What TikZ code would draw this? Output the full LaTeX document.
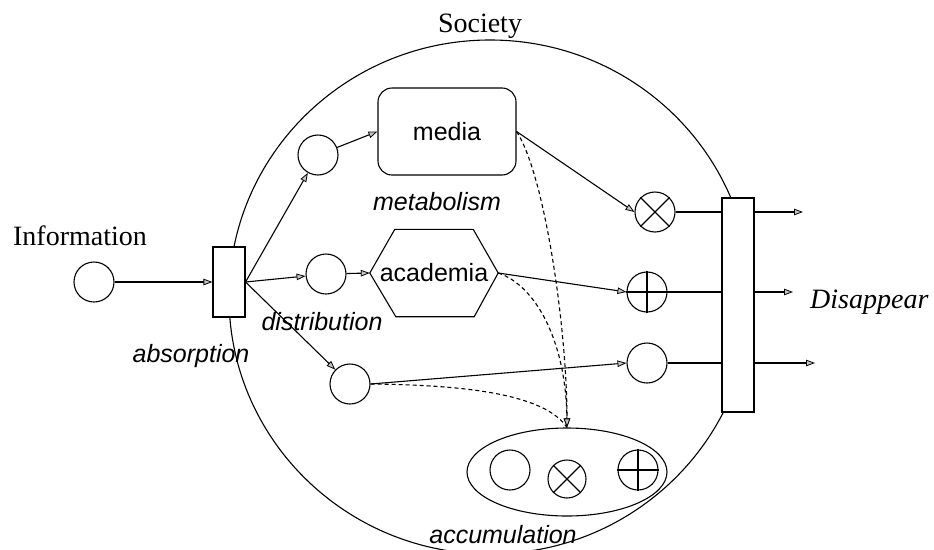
\documentclass[tikz,border=0pt]{standalone}
\usepackage{fontspec}
\setmainfont{Liberation Serif}
\setsansfont{Liberation Sans}
\usetikzlibrary{arrows.meta,shapes.geometric}
\begin{document}
\begin{tikzpicture}[x=1pt,y=-1pt,
  ln/.style={line width=1.1pt},
  arr/.style={ln,-{Triangle[length=9pt,width=6.5pt,fill=gray!45,line width=0.8pt]}},
  place/.style={circle,draw,ln,fill=white,minimum size=40pt,inner sep=0pt},
  trans/.style={rectangle,draw,ln,fill=white,inner sep=0pt},
  serif/.style={inner sep=0pt,font=\fontsize{28}{30}\selectfont},
  iserif/.style={inner sep=0pt,font=\itshape\fontsize{28}{30}\selectfont},
  sans/.style={font=\sffamily\fontsize{25}{28}\selectfont},
  isans/.style={inner sep=0pt,font=\sffamily\itshape\fontsize{25}{28}\selectfont},
  dsh/.style={dash pattern=on 4pt off 3pt}
]
\useasboundingbox (0,0) rectangle (934,549);
\fill[white] (0,0) rectangle (934,549);
% society boundary
\node[ellipse,draw,ln,inner sep=0pt,minimum width=522pt,minimum height=514pt] (soc) at (490,297) {};
% places and transitions
\node[place] (info) at (94,282) {};
\node[trans,minimum width=32pt,minimum height=70pt] (abs) at (229,282) {};
\node[place] (c1) at (318,155) {};
\node[place] (c2) at (326,274) {};
\node[place] (c3) at (350,384) {};
\node[draw,ln,fill=white,rounded corners=14pt,minimum width=138pt,minimum height=87pt,sans] (media) at (447,131.5) {media};
\node[sans,minimum width=128pt,minimum height=87pt,inner sep=0pt] (ac) at (434,273) {academia};
\draw[ln] (ac.west) -- ([xshift=25pt]ac.north west) -- ([xshift=-25pt]ac.north east) -- (ac.east)
  -- ([xshift=-24pt]ac.south east) -- ([xshift=26pt]ac.south west) -- cycle;
\node[place] (x1) at (655,212) {};
\draw[ln] (x1.45) -- (x1.225) (x1.135) -- (x1.315);
\node[place] (p1) at (647,292) {};
\draw[ln] (p1.north) -- (p1.south) (p1.west) -- (p1.east);
\node[place] (q1) at (647,363) {};
\node[trans,minimum width=32pt,minimum height=214pt] (dis) at (738,305) {};
% accumulation
\node[ellipse,draw,ln,inner sep=0pt,minimum width=200pt,minimum height=88pt] (acc) at (567,472) {};
\node[place] (a1) at (510,470) {};
\node[place,minimum size=38pt] (a2) at (567,479) {};
\draw[ln] (a2.45) -- (a2.225) (a2.135) -- (a2.315);
\node[place] (a3) at (638,470) {};
\draw[ln] (a3.north) -- (a3.south) (a3.west) -- (a3.east);
% connectors
\draw[arr] (info) -- (abs.west);
\draw[arr] (abs.east) -- (c1);
\draw[arr] (abs.east) -- (c2);
\draw[arr] (abs.east) -- (c3);
\draw[arr] (c1) -- (media.west);
\draw[arr] (c2) -- (ac.west);
\draw[arr] (media.east) -- (x1.west);
\draw[arr] (ac.east) -- (p1.west);
\draw[arr] (c3.east) -- (q1.west);
\draw[ln] (x1.east) -- (x1.east -| dis.west);
\draw[ln] (p1.east) -- (p1.east -| dis.west);
\draw[ln] (q1.east) -- (q1.east -| dis.west);
\coordinate (o1) at (803,212);
\coordinate (o2) at (793,292);
\coordinate (o3) at (815,363);
\draw[arr] (x1 -| dis.east) -- (o1);
\draw[arr] (p1 -| dis.east) -- (o2);
\draw[arr] (q1 -| dis.east) -- (o3);
% dashed accumulation flows
\draw[ln,dsh] (c3.east) .. controls (470,385) and (545,395) .. (acc.north);
\draw[arr,dsh] (ac.east) .. controls (535,285) and (566,340) .. (acc.north);
\draw[arr,dsh] (media.east) .. controls (545,175) and (567,330) .. (acc.north);
% labels
\node[serif,anchor=base] (lsoc) at (480,32) {Society};
\node[serif,anchor=base] (linfo) at (80,245) {Information};
\node[iserif,anchor=base west] (ldis) at (810,308) {Disappear};
\node[isans,anchor=base] (lmet) at (437,210) {metabolism};
\node[isans,anchor=base] (ldist) at (322,330) {distribution};
\node[isans,anchor=base] (labs) at (191,362) {absorption};
\node[isans,anchor=base] (lacc) at (503,543) {accumulation};
\end{tikzpicture}
\end{document}
